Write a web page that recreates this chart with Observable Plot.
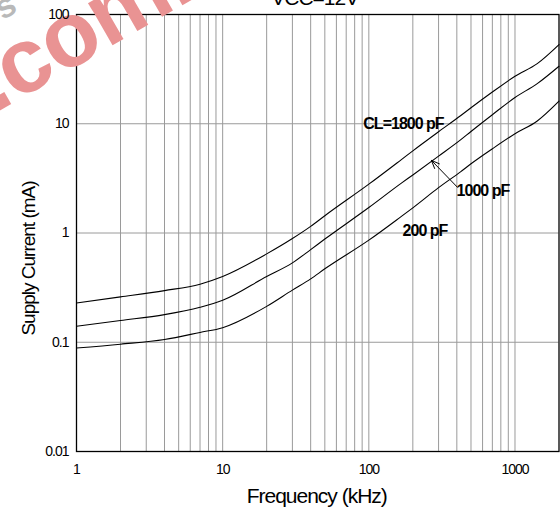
<!DOCTYPE html>
<html>
<head>
<meta charset="utf-8">
<script src="https://cdn.jsdelivr.net/npm/d3@7"></script>
<script src="https://cdn.jsdelivr.net/npm/@observablehq/plot@0.6"></script>
<style>
  html, body { margin: 0; padding: 0; background: #fff; }
  #chart svg { display: block; }
  #chart svg text { letter-spacing: -1px; }
  g[aria-label="x title"] text { letter-spacing: -1.3px; }
  g[aria-label="y title"] text { letter-spacing: -0.4px; }
  g[aria-label="title"] text { letter-spacing: -1.3px; }
  g[aria-label="watermark"] text, g[aria-label="watermark2"] text { letter-spacing: 0; }
</style>
</head>
<body>
<div id="chart"></div>
<script>
// Frequency (kHz)
const freq  = [1, 2, 4, 7, 10, 20, 30, 40, 50, 100, 167, 200, 300, 426, 500, 700, 1000, 1420, 2000];
// Supply current (mA) per load capacitance
const c1800 = [0.229, 0.26, 0.297, 0.34, 0.40, 0.644, 0.89, 1.15, 1.44, 2.8, 4.7, 5.65, 8.45, 11.9, 14.0, 19.5, 27.2, 35.5, 53];
const c1000 = [0.14, 0.158, 0.179, 0.209, 0.242, 0.40, 0.533, 0.705, 0.88, 1.71, 2.86, 3.4, 5.05, 7.15, 8.5, 12.1, 17.4, 23.3, 33.6];
const c200  = [0.0885, 0.096, 0.106, 0.123, 0.136, 0.213, 0.30, 0.38, 0.47, 0.86, 1.42, 1.7, 2.6, 3.65, 4.3, 5.9, 8.1, 10.6, 16.1];
const seriesNames = ["1800 pF", "1000 pF", "200 pF"];

// axes
const xTicks = [1, 10, 100, 1000];
const yTicks = [0.01, 0.1, 1, 10, 100];
const xGrid = [2,3,4,5,6,7,8,9,10,20,30,40,50,60,70,80,90,100,200,300,400,500,600,700,800,900,1000];
const yGrid = [0.1, 1, 10];

// texts
const titleText = ["VCC=12V"];
const xTitle = ["Frequency (kHz)"];
const yTitle = ["Supply Current (mA)"];
const curveLabels = ["CL=1800 pF", "1000 pF", "200 pF"];
const curveLabelX = [172.5, 603, 242];
const curveLabelY = [10, 2.41, 1.037];
const arrowX1 = [404], arrowY1 = [2.62], arrowX2 = [268], arrowY2 = [4.62];
const watermarkRed = [".com.c"];
const watermarkGray = ["s"];

const rows = [];
[c1800, c1000, c200].forEach((vals, k) => {
  freq.forEach((f, i) => rows.push({f, v: vals[i], s: seriesNames[k]}));
});
const labelRows = curveLabels.map((t, i) => ({t, x: curveLabelX[i], y: curveLabelY[i]}));
const arrowRows = arrowX1.map((x1, i) => ({x1, y1: arrowY1[i], x2: arrowX2[i], y2: arrowY2[i]}));

const chart = Plot.plot({
  width: 560,
  height: 516,
  marginLeft: 76,
  marginRight: 1.5,
  marginTop: 14,
  marginBottom: 65,
  style: {fontFamily: "'Liberation Sans', Arial, sans-serif", fontSize: "14px", color: "#000", background: "#fff"},
  x: {type: "log", domain: [1, 2000]},
  y: {type: "log", domain: [0.01, 100]},
  marks: [
    Plot.ruleX(xGrid, {stroke: "#9a9a9a", strokeWidth: 1}),
    Plot.ruleY(yGrid, {stroke: "#9a9a9a", strokeWidth: 1}),
    Plot.frame({stroke: "#000", strokeWidth: 1.3}),
    Plot.line(rows, {x: "f", y: "v", z: "s", stroke: "#000", strokeWidth: 1.1, curve: "monotone-x"}),
    Plot.text(labelRows, {x: "x", y: "y", text: "t", fontSize: 16, fontWeight: "bold", textAnchor: "middle", lineAnchor: "middle", fill: "#000"}),
    Plot.arrow(arrowRows, {x1: "x1", y1: "y1", x2: "x2", y2: "y2", stroke: "#000", strokeWidth: 1, headLength: 13, headAngle: 45}),
    Plot.text(watermarkRed, {frameAnchor: "top-left", textAnchor: "start", lineAnchor: "bottom", rotate: -30, dx: -82, dy: 99, fontSize: 92, fontWeight: "bold", fill: "#e99393", ariaLabel: "watermark"}),
    Plot.text(watermarkGray, {frameAnchor: "top-left", textAnchor: "start", lineAnchor: "bottom", rotate: -30, dx: -74, dy: 6, fontSize: 34, fontWeight: "bold", fill: "#b9b9b9", ariaLabel: "watermark2"}),
    Plot.axisX(xTicks, {tickSize: 0, tickPadding: 13, fontSize: 14, label: null, tickFormat: d => String(d)}),
    Plot.axisY(yTicks, {tickSize: 0, tickPadding: 8, fontSize: 14, label: null, tickFormat: d => String(d)}),
    Plot.text(titleText, {frameAnchor: "top", lineAnchor: "bottom", dy: -9.4, dx: -3, fontSize: 21, ariaLabel: "title"}),
    Plot.text(xTitle, {frameAnchor: "bottom", lineAnchor: "middle", dy: 45, dx: -1, fontSize: 21, ariaLabel: "x title"}),
    Plot.text(yTitle, {frameAnchor: "left", textAnchor: "middle", lineAnchor: "middle", rotate: -90, dx: -47.5, dy: 25.5, fontSize: 19, ariaLabel: "y title"})
  ]
});
document.getElementById("chart").appendChild(chart);
</script>
</body>
</html>
